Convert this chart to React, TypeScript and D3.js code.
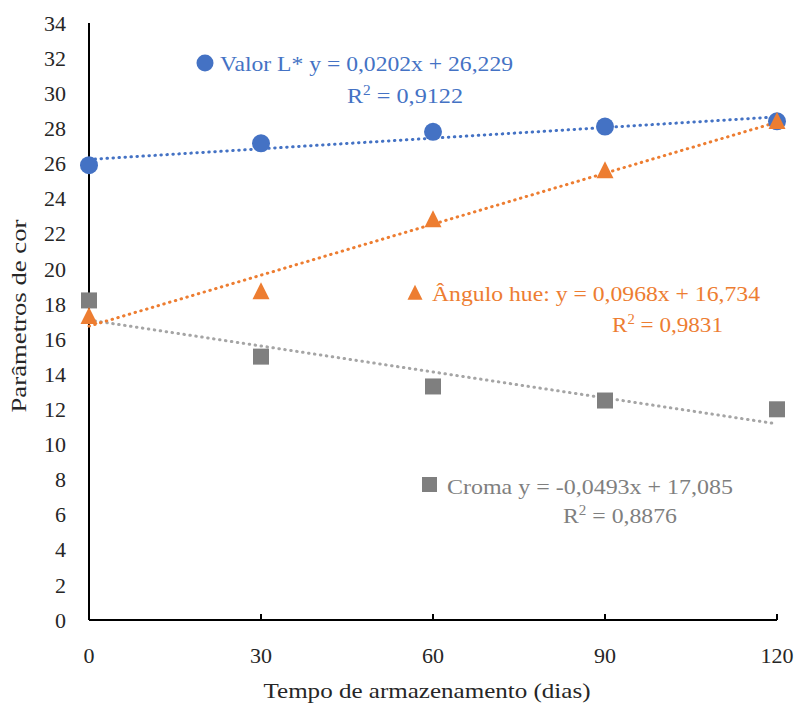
import React from "react";
import * as d3 from "d3";

const days = [0, 30, 60, 90, 120];
const valorL = [25.9, 27.15, 27.8, 28.1, 28.4];
const anguloHue = [17.3, 18.7, 22.8, 25.6, 28.4];
const croma = [18.2, 15.0, 13.3, 12.5, 12.0];
const yTicks = d3.range(0, 35, 2);
const xTicks = [0, 30, 60, 90, 120];

const fits = {
  valor: { m: 0.0202, b: 26.229 },
  hue: { m: 0.0968, b: 16.734 },
  croma: { m: -0.0493, b: 17.085 },
};

const BLUE = "#4472C4";
const ORANGE = "#ED7D31";
const GRAY = "#7F7F7F";
const LGRAY = "#A5A5A5";
const FONT = "'Liberation Serif', 'DejaVu Serif', serif";

export default function App() {
  const W = 798, H = 709;
  const x = d3.scaleLinear().domain([0, 120]).range([89, 777]);
  const y = d3.scaleLinear().domain([0, 34]).range([620, 23]);
  const line = (m: number, b: number) =>
    d3.line<number>().x((d) => x(d)).y((d) => y(m * d + b))([0, 120]) || "";
  const dot = { stroke: "", strokeWidth: 3, strokeLinecap: "round" as const, strokeDasharray: "0.5 5.5", fill: "none" };
  const tri = (cx: number, cy: number, s: number) =>
    `M${cx},${cy - s * 0.55}L${cx + s / 2},${cy + s * 0.45}L${cx - s / 2},${cy + s * 0.45}Z`;
  const R2 = (xx: number, yy: number, val: string, color: string, len: number) => (
    <text x={xx} y={yy} dy="0.35em" fontSize={22} fill={color} textLength={len} lengthAdjust="spacingAndGlyphs">
      R<tspan dy="-8" fontSize={14}>2</tspan>
      <tspan dy="8">{" = " + val}</tspan>
    </text>
  );

  return (
    <svg width={W} height={H} style={{ position: "absolute", left: 0, top: 0, background: "#fff" }} fontFamily={FONT}>
      <rect width={W} height={H} fill="#fff" />
      {/* y tick labels */}
      {yTicks.map((t) => (
        <text key={t} x={66} y={y(t)} dy="0.35em" textAnchor="end" fontSize={22} fill="#262626">
          {t}
        </text>
      ))}
      {/* x tick labels */}
      {xTicks.map((t) => (
        <text key={t} x={x(t)} y={655} dy="0.35em" textAnchor="middle" fontSize={22} fill="#262626">
          {t}
        </text>
      ))}
      {/* axes */}
      <line x1={x(0)} x2={x(0)} y1={y(34)} y2={y(0)} stroke="#000" strokeWidth={2} />
      <line x1={x(0)} x2={x(120)} y1={y(0)} y2={y(0)} stroke="#000" strokeWidth={2} />
      {xTicks.slice(1).map((t) => (
        <line key={t} x1={x(t)} x2={x(t)} y1={y(0)} y2={y(0) - 6} stroke="#000" strokeWidth={2} />
      ))}
      {/* axis titles */}
      <text x={427} y={690} dy="0.35em" textAnchor="middle" fontSize={22} fill="#262626" textLength={327} lengthAdjust="spacingAndGlyphs">
        Tempo de armazenamento (dias)
      </text>
      <text transform={`translate(18,316) rotate(-90)`} dy="0.35em" textAnchor="middle" fontSize={22} fill="#262626" textLength={193} lengthAdjust="spacingAndGlyphs">
        Parâmetros de cor
      </text>

      {/* trendlines */}
      <path d={line(fits.croma.m, fits.croma.b)} {...dot} stroke={LGRAY} />
      <path d={line(fits.hue.m, fits.hue.b)} {...dot} stroke={ORANGE} />
      <path d={line(fits.valor.m, fits.valor.b)} {...dot} stroke={BLUE} />

      {/* markers */}
      {days.map((d, i) => (
        <circle key={"v" + i} cx={x(d)} cy={y(valorL[i])} r={9} fill={BLUE} />
      ))}
      {days.map((d, i) => (
        <rect key={"c" + i} x={x(d) - 8} y={y(croma[i]) - 8} width={16} height={16} fill={GRAY} />
      ))}
      {days.map((d, i) => (
        <path key={"h" + i} d={tri(x(d), y(anguloHue[i]), 17)} fill={ORANGE} />
      ))}

      {/* annotations */}
      <circle cx={205} cy={63} r={8.5} fill={BLUE} />
      <text x={220} y={63} dy="0.35em" fontSize={22} fill={BLUE} textLength={293} lengthAdjust="spacingAndGlyphs">
        Valor L* y = 0,0202x + 26,229
      </text>
      {R2(347, 95, "0,9122", BLUE, 116)}

      <path d={tri(415, 293, 15)} fill={ORANGE} />
      <text x={432} y={293} dy="0.35em" fontSize={22} fill={ORANGE} textLength={328} lengthAdjust="spacingAndGlyphs">
        Ângulo hue: y = 0,0968x + 16,734
      </text>
      {R2(612, 324, "0,9831", ORANGE, 111)}

      <rect x={422} y={477} width={15} height={15} fill={GRAY} />
      <text x={447} y={486} dy="0.35em" fontSize={22} fill={GRAY} textLength={286} lengthAdjust="spacingAndGlyphs">
        Croma y = -0,0493x + 17,085
      </text>
      {R2(563, 515, "0,8876", GRAY, 114)}
    </svg>
  );
}
